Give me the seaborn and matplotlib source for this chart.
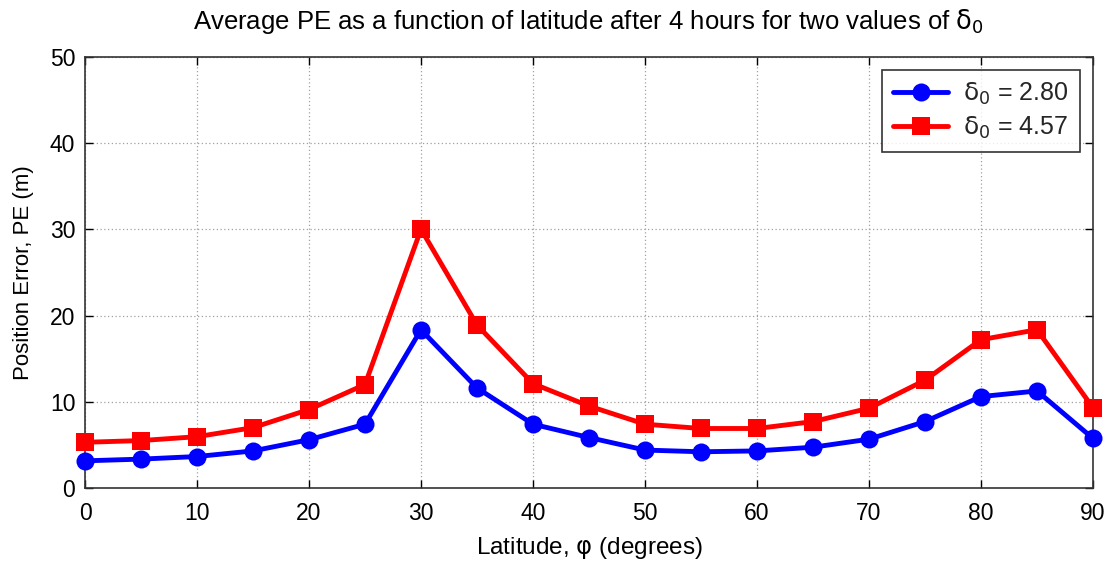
import matplotlib
matplotlib.use("Agg")
import matplotlib.pyplot as plt
import seaborn as sns
import pandas as pd

latitude = [0, 5, 10, 15, 20, 25, 30, 35, 40, 45, 50, 55, 60, 65, 70, 75, 80, 85, 90]
pe_280 = [3.15, 3.35, 3.65, 4.3, 5.6, 7.4, 18.35, 11.6, 7.4, 5.85, 4.4, 4.2, 4.3, 4.73, 5.66, 7.7, 10.6, 11.25, 5.75]
pe_457 = [5.3, 5.5, 5.95, 7.0, 9.1, 12.0, 30.0, 18.9, 12.1, 9.5, 7.4, 6.9, 6.9, 7.7, 9.25, 12.5, 17.2, 18.35, 9.3]
labels = [r"$\mathrm{δ}_0$ = 2.80", r"$\mathrm{δ}_0$ = 4.57"]
xticks = list(range(0, 91, 10))
yticks = list(range(0, 51, 10))

sns.set_theme(style="white")
plt.rcParams['font.family'] = ['Liberation Sans', 'DejaVu Sans']
plt.rcParams['mathtext.fontset'] = 'custom'
plt.rcParams['mathtext.rm'] = 'DejaVu Sans'
plt.rcParams['mathtext.it'] = 'DejaVu Sans'

df = pd.DataFrame({
    "lat": latitude * 2,
    "pe": pe_280 + pe_457,
    "series": [labels[0]] * len(latitude) + [labels[1]] * len(latitude),
})

fig = plt.figure(figsize=(11.16, 5.63), dpi=100)
ax = fig.add_axes([85 / 1116, 0.1332, 1008 / 1116, 0.766])

sns.lineplot(data=df, x="lat", y="pe", hue="series", style="series",
             palette=["#0000ff", "#ff0000"], markers=["o", "s"], dashes=False,
             linewidth=3.5, markersize=13, markeredgewidth=0, clip_on=False,
             zorder=5, ax=ax)

ax.set_xlim(0, 90)
ax.set_ylim(0, 50)
ax.set_xticks(xticks)
ax.set_yticks(yticks)
ax.tick_params(direction="in", length=6, width=1, labelsize=16.5, colors="black",
               top=True, right=True, bottom=True, left=True, pad=7)
ax.tick_params(axis="x", pad=10)
ax.grid(True, linestyle=(0, (1, 2)), color="#a0a0a0", linewidth=0.9)
for s in ax.spines.values():
    s.set_color("#333333")
    s.set_linewidth(1.2)

ax.set_xlabel(r"Latitude, $\mathrm{φ}$ (degrees)", fontsize=17.5, color="black", labelpad=7)
ax.set_ylabel("Position Error, PE (m)", fontsize=16, color="black", labelpad=11)
ax.set_title(r"Average PE as a function of latitude after 4 hours for two values of $\mathrm{δ}_0$",
             fontsize=18.5, color="black", pad=20)

leg = ax.legend(loc="upper right", fontsize=18, frameon=True, fancybox=False,
                edgecolor="black", handlelength=2.2, borderpad=0.45, borderaxespad=0,
                bbox_to_anchor=(0.987, 0.970), labelspacing=0.3, handletextpad=0.6)
leg.get_frame().set_linewidth(1.2)
leg.set_zorder(10)

fig.savefig("out.png", dpi=100)
